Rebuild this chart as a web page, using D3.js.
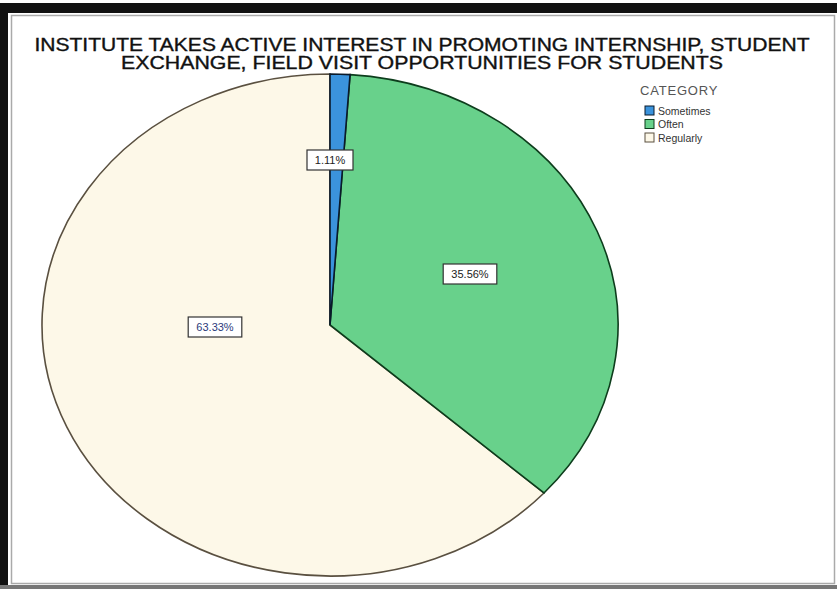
<!DOCTYPE html>
<html><head><meta charset="utf-8">
<script src="https://cdn.jsdelivr.net/npm/d3@7"></script>
<style>html,body{margin:0;padding:0;background:#fff;}svg{display:block;}</style>
</head><body>
<svg id="c" width="837" height="589"></svg>
<script>
const categories = ["Sometimes", "Often", "Regularly"];
const values = [1.11, 35.56, 63.33];
const labels = ["1.11%", "35.56%", "63.33%"];
const colors = ["#3b93dc", "#68d18b", "#fdf8e8"];
const strokes = ["#0a1a2a", "#0d3d1c", "#5a5040"];
const titleLines = ["INSTITUTE TAKES ACTIVE INTEREST IN PROMOTING INTERNSHIP, STUDENT",
                    "EXCHANGE, FIELD VISIT OPPORTUNITIES FOR STUDENTS"];
const legendTitle = "CATEGORY";

const svg = d3.select("#c");
// frame
svg.append("rect").attr("x",0).attr("y",0).attr("width",837).attr("height",589).attr("fill","#fff");
svg.append("rect").attr("x",0).attr("y",3).attr("width",837).attr("height",10).attr("fill","#111");
svg.append("rect").attr("x",0).attr("y",3).attr("width",8).attr("height",586).attr("fill","#111");
svg.append("rect").attr("x",0).attr("y",585).attr("width",837).attr("height",4).attr("fill","#777");
svg.append("rect").attr("x",11.5).attr("y",15.5).attr("width",823).attr("height",568)
  .attr("fill","#fff").attr("stroke","#aaa").attr("stroke-width",1.5);

// title
svg.append("g").selectAll("text").data(titleLines).join("text")
  .attr("x",422).attr("y",(d,i)=>51+i*18)
  .attr("text-anchor","middle")
  .attr("font-family","'Liberation Sans', Arial, sans-serif")
  .attr("font-size",17.5).attr("fill","#111").attr("stroke","#111").attr("stroke-width",0.35)
  .attr("textLength",(d,i)=>i===0?775:602).attr("lengthAdjust","spacingAndGlyphs")
  .text(d=>d);

// pie (elliptical due to aspect)
const cx = 330, cy = 325, rx = 288, ry = 251;
const pie = d3.pie().sort(null).value(d=>d)(values);
const arc = d3.arc().innerRadius(0).outerRadius(ry);
const g = svg.append("g").attr("transform",`translate(${cx},${cy}) scale(${rx/ry},1)`);
g.selectAll("path").data(pie.slice().reverse()).join("path")
  .attr("d",arc)
  .attr("fill",d=>colors[d.index])
  .attr("stroke",d=>strokes[d.index])
  .attr("stroke-width",1.6)
  .attr("vector-effect","non-scaling-stroke");

// labels
const labelPos = [[330,160],[470,274],[215,327]];
const lg = svg.append("g");
labels.forEach((t,i)=>{
  const w = t.length*7.6+8;
  lg.append("rect").attr("x",labelPos[i][0]-w/2).attr("y",labelPos[i][1]-10)
    .attr("width",w).attr("height",20).attr("fill","#fff").attr("stroke","#333").attr("stroke-width",1.2);
  lg.append("text").attr("x",labelPos[i][0]).attr("y",labelPos[i][1]+4)
    .attr("text-anchor","middle").attr("font-family","'Liberation Sans', Arial, sans-serif")
    .attr("font-size",11).attr("fill",i===2?"#2a3a7a":"#222").text(t);
});

// legend
const leg = svg.append("g");
leg.append("text").attr("x",640).attr("y",95).attr("font-family","'Liberation Sans', Arial, sans-serif")
  .attr("font-size",13).attr("fill","#555").attr("letter-spacing",0.8).text(legendTitle);
categories.forEach((c,i)=>{
  const y = 106 + i*13.5;
  leg.append("rect").attr("x",645).attr("y",y).attr("width",9).attr("height",9)
    .attr("fill",colors[i]).attr("stroke",strokes[i]).attr("stroke-width",1);
  leg.append("text").attr("x",658).attr("y",y+8.5).attr("font-family","'Liberation Sans', Arial, sans-serif")
    .attr("font-size",10.5).attr("fill","#333").text(c);
});
</script>
</body></html>
